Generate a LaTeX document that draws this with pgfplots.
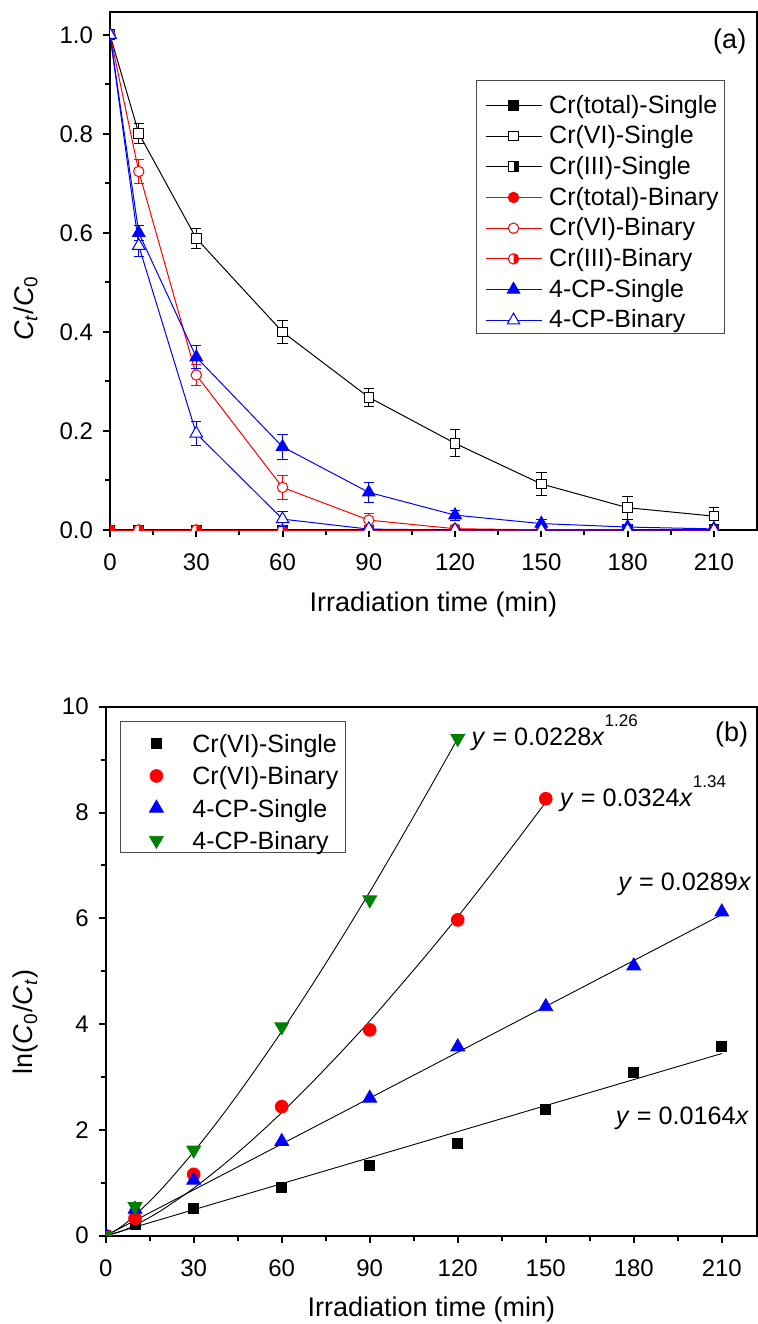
\documentclass[border=0pt]{standalone}
\usepackage{fontspec}
\setmainfont{Liberation Sans}
\usepackage{pgfplots}
\pgfplotsset{compat=1.18}
\definecolor{cpgreen}{rgb}{0,0.5,0}

\pgfdeclareplotmark{halfsquare}{%
  \begin{pgfscope}\pgfsetfillcolor{white}%
  \pgfpathrectangle{\pgfqpoint{-\pgfplotmarksize}{-\pgfplotmarksize}}{\pgfqpoint{2\pgfplotmarksize}{2\pgfplotmarksize}}%
  \pgfusepathqfill\end{pgfscope}%
  \pgfpathrectangle{\pgfqpoint{0pt}{-\pgfplotmarksize}}{\pgfqpoint{\pgfplotmarksize}{2\pgfplotmarksize}}%
  \pgfusepathqfill
  \pgfpathrectangle{\pgfqpoint{-\pgfplotmarksize}{-\pgfplotmarksize}}{\pgfqpoint{2\pgfplotmarksize}{2\pgfplotmarksize}}%
  \pgfusepathqstroke
}
\pgfdeclareplotmark{halfcircle}{%
  \begin{pgfscope}\pgfsetfillcolor{white}%
  \pgfpathcircle{\pgfpointorigin}{\pgfplotmarksize}\pgfusepathqfill\end{pgfscope}%
  \pgfpathmoveto{\pgfqpoint{0pt}{\pgfplotmarksize}}%
  \pgfpatharc{90}{-90}{\pgfplotmarksize}%
  \pgfpathclose
  \pgfusepathqfill
  \pgfpathcircle{\pgfpointorigin}{\pgfplotmarksize}%
  \pgfusepathqstroke
}

\pgfplotsset{
  common/.style={
    scale only axis,
    axis line style={line width=1pt},
    tick pos=left,
    tick align=outside,
    major tick length=3.5pt,
    minor tick length=2.5pt,
    every tick/.style={black, line width=1pt},
    /pgf/number format/assume math mode=true,
    tick label style={font=\fontsize{12}{14}\selectfont},
    xticklabel style={yshift=-5pt},
    yticklabel style={xshift=-1.5pt},
    label style={font=\fontsize{13.5}{16}\selectfont},
    xlabel={Irradiation time (min)},
    xlabel style={at={(axis description cs:0.5,0)}, anchor=base, yshift=-40.6pt, inner sep=0pt},
    xtick={0,30,60,90,120,150,180,210},
    minor xtick={15,45,75,105,135,165,195},
    xmin=0,
    clip marker paths=true,
    legend cell align=left,
  },
}

\begin{document}
\begin{tikzpicture}
\useasboundingbox (0,0) rectangle (379pt,-662pt);

% ---------------- panel (a)
\begin{axis}[common,
  at={(55pt,-265pt)}, anchor=south west,
  width=323.5pt, height=259pt,
  xmax=225, ymin=0, ymax=1.046,
  ytick={0,0.2,0.4,0.6,0.8,1},
  minor ytick={0.1,0.3,0.5,0.7,0.9},
  yticklabel style={/pgf/number format/.cd, fixed, fixed zerofill, precision=1},
  ylabel={\textit{C}\textsubscript{\textit{t}}/\textit{C}\textsubscript{0}},
  ylabel style={at={(axis description cs:-0.119,0.428)}, anchor=base},
  error bars/y dir=both, error bars/y explicit,
  error bars/error bar style={line width=0.5pt},
  error bars/error mark options={mark size=2.6pt, line width=0.5pt, rotate=90},
  legend style={at={(rel axis cs:0.5668,0.8674)}, anchor=north west,
    draw=none, fill=none, inner xsep=0pt, inner ysep=5.65pt,
    column sep=3.6pt, row sep=2.35pt,
    font=\fontsize{12.5}{15}\selectfont,
    nodes={inner xsep=0pt, inner ysep=0.5pt, text height=9.85pt, text depth=2.15pt}},
  legend image code/.code={%
    \path[draw=none] (-4.2pt,0pt) -- (28pt,0pt);
    \draw[mark repeat=2,mark phase=2] plot coordinates {(0pt,0pt) (14pt,0pt) (28pt,0pt)};},
]
\addplot[black, line width=0.5pt, mark=square*, mark size=2.4pt, mark options={fill=black, solid}]
  coordinates {(0,0) (10,0) (30,0) (60,0) (90,0) (120,0) (150,0) (180,0) (210,0)};
\addlegendentry{Cr(total)-Single}
\addplot[black, line width=0.5pt, mark=square*, mark size=2.4pt, mark options={fill=white, solid}]
  coordinates {(0,1.0) +- (0,0) (10,0.801) +- (0,0.02) (30,0.589) +- (0,0.02) (60,0.40) +- (0,0.023)
   (90,0.268) +- (0,0.018) (120,0.175) +- (0,0.027) (150,0.093) +- (0,0.023) (180,0.045) +- (0,0.023) (210,0.028) +- (0,0.017)};
\addlegendentry{Cr(VI)-Single}
\addplot[black, line width=0.5pt, mark=halfsquare, mark size=2.4pt, mark options={fill=black, solid}]
  coordinates {(0,0) (10,0) (30,0) (60,0) (90,0) (120,0) (150,0) (180,0) (210,0)};
\addlegendentry{Cr(III)-Single}
\addplot[red, line width=0.5pt, mark=*, mark size=2.6pt, mark options={fill=red, solid}]
  coordinates {(0,0) (10,0) (30,0) (60,0) (90,0) (120,0) (150,0) (180,0) (210,0)};
\addlegendentry{Cr(total)-Binary}
\addplot[red, line width=0.5pt, mark=*, mark size=2.6pt, mark options={fill=white, solid}]
  coordinates {(0,1.0) +- (0,0) (10,0.724) +- (0,0.025) (30,0.313) +- (0,0.022) (60,0.086) +- (0,0.025)
   (90,0.020) +- (0,0.013) (120,0.0026) +- (0,0.003) (150,0.0003) +- (0,0) (180,0) +- (0,0) (210,0) +- (0,0)};
\addlegendentry{Cr(VI)-Binary}
\addplot[red, line width=0.5pt, mark=halfcircle, mark size=2.6pt, mark options={fill=red, solid}]
  coordinates {(0,0) (10,0) (30,0) (60,0) (90,0) (120,0) (150,0) (180,0) (210,0)};
\addlegendentry{Cr(III)-Binary}
\addplot[blue, line width=0.5pt, mark=triangle*, mark size=3.6pt, mark options={fill=blue, solid}]
  coordinates {(0,1.0) +- (0,0) (10,0.60) +- (0,0.015) (30,0.349) +- (0,0.023) (60,0.168) +- (0,0.025)
   (90,0.076) +- (0,0.02) (120,0.030) +- (0,0.01) (150,0.013) +- (0,0.008) (180,0.006) +- (0,0.005) (210,0.0022) +- (0,0.003)};
\addlegendentry{4-CP-Single}
\addplot[blue, line width=0.5pt, mark=triangle*, mark size=3.6pt, mark options={fill=white, solid}]
  coordinates {(0,1.0) +- (0,0) (10,0.574) +- (0,0.022) (30,0.195) +- (0,0.024) (60,0.022) +- (0,0.015)
   (90,0.0018) +- (0,0.003) (120,0.0001) +- (0,0) (150,0) +- (0,0) (180,0) +- (0,0) (210,0) +- (0,0)};
\addlegendentry{4-CP-Binary}
\draw[black!70, line width=0.5pt] (rel axis cs:0.5668,0.8674) rectangle (rel axis cs:0.949,0.3797);
\node[anchor=base east, inner sep=0pt, font=\fontsize{13.5}{16}\selectfont] at (rel axis cs:0.984,0.930) {(a)};
\end{axis}

% ---------------- panel (b)
\begin{axis}[common,
  at={(52.85pt,-617.85pt)}, anchor=south west,
  width=325.65pt, height=264.5pt,
  xmax=222, ymin=0, ymax=10,
  ytick={0,2,4,6,8,10},
  minor ytick={1,3,5,7,9},
  ylabel={ln(\textit{C}\textsubscript{0}/\textit{C}\textsubscript{\textit{t}})},
  ylabel style={at={(axis description cs:-0.1118,0.404)}, anchor=base},
  legend style={at={(rel axis cs:0.022,0.9716)}, anchor=north west,
    draw=none, fill=none, inner xsep=0pt, inner ysep=4.3pt,
    column sep=0pt, row sep=3.1pt,
    font=\fontsize{12.5}{15}\selectfont,
    nodes={inner xsep=0pt, inner ysep=0.5pt, text height=10.5pt, text depth=1.5pt}},
  legend image code/.code={%
    \path[draw=none] (0pt,0pt) -- (36pt,0pt);
    \draw[only marks] plot coordinates {(18pt,0pt)};},
]
% fitted curves
\addplot[black, line width=0.45pt, forget plot] coordinates {(0,0) (210,3.444)};
\addplot[black, line width=0.45pt, forget plot] coordinates {(0,0) (210,6.069)};
\addplot[black, line width=0.45pt, forget plot, smooth] coordinates {
 (0,0) (5,0.077) (10,0.199) (15,0.347) (20,0.515) (30,0.899) (40,1.335) (50,1.813) (60,2.328)
 (70,2.879) (80,3.458) (90,4.06) (100,4.699) (110,5.352) (120,6.03) (130,6.736) (140,7.457) (150,8.196)};
\addplot[black, line width=0.45pt, forget plot, smooth] coordinates {
 (0,0) (5,0.159) (10,0.387) (15,0.652) (20,0.942) (30,1.586) (40,2.295) (50,3.058) (60,3.863)
 (70,4.710) (80,5.590) (90,6.50) (100,7.446) (110,8.415) (120,9.40)};
% data
\addplot[only marks, mark=square*, mark size=2.5pt, black, mark options={fill=black}]
  coordinates {(0,0) (10,0.22) (30,0.52) (60,0.91) (90,1.32) (120,1.75) (150,2.39) (180,3.08) (210,3.57)};
\addlegendentry{Cr(VI)-Single}
\addplot[only marks, mark=*, mark size=3.2pt, red, mark options={fill=red}]
  coordinates {(0,0) (10,0.33) (30,1.16) (60,2.44) (90,3.89) (120,5.97) (150,8.26)};
\addlegendentry{Cr(VI)-Binary}
\addplot[only marks, mark=triangle*, mark size=4pt, blue, mark options={fill=blue}]
  coordinates {(0,0) (10,0.50) (30,1.05) (60,1.78) (90,2.60) (120,3.57) (150,4.33) (180,5.10) (210,6.12)};
\addlegendentry{4-CP-Single}
\addplot[only marks, mark=triangle*, mark size=4pt, cpgreen, mark options={fill=cpgreen, rotate=180}]
  coordinates {(0,0) (10,0.55) (30,1.62) (60,3.95) (90,6.35) (120,9.40)};
\addlegendentry{4-CP-Binary}
\draw[black!70, line width=0.5pt] (rel axis cs:0.022,0.9716) rectangle (rel axis cs:0.3676,0.7248);
\begin{scope}[every node/.style={anchor=base west, inner sep=0pt, font=\fontsize{12.6}{15}\selectfont}]
\node at (axis cs:124.6,9.276) {\textit{y} = 0.0228\textit{x}\raisebox{0.75em}{\fontsize{8.5}{9}\selectfont 1.26}};
\node at (axis cs:154.7,8.11) {\textit{y} = 0.0324\textit{x}\raisebox{0.75em}{\fontsize{8.5}{9}\selectfont 1.34}};
\node at (axis cs:174.6,6.52) {\textit{y} = 0.0289\textit{x}};
\node at (axis cs:173.8,2.11) {\textit{y} = 0.0164\textit{x}};
\end{scope}
\node[anchor=base east, inner sep=0pt, font=\fontsize{13.5}{16}\selectfont] at (rel axis cs:0.987,0.934) {(b)};
\end{axis}
\end{tikzpicture}
\end{document}
